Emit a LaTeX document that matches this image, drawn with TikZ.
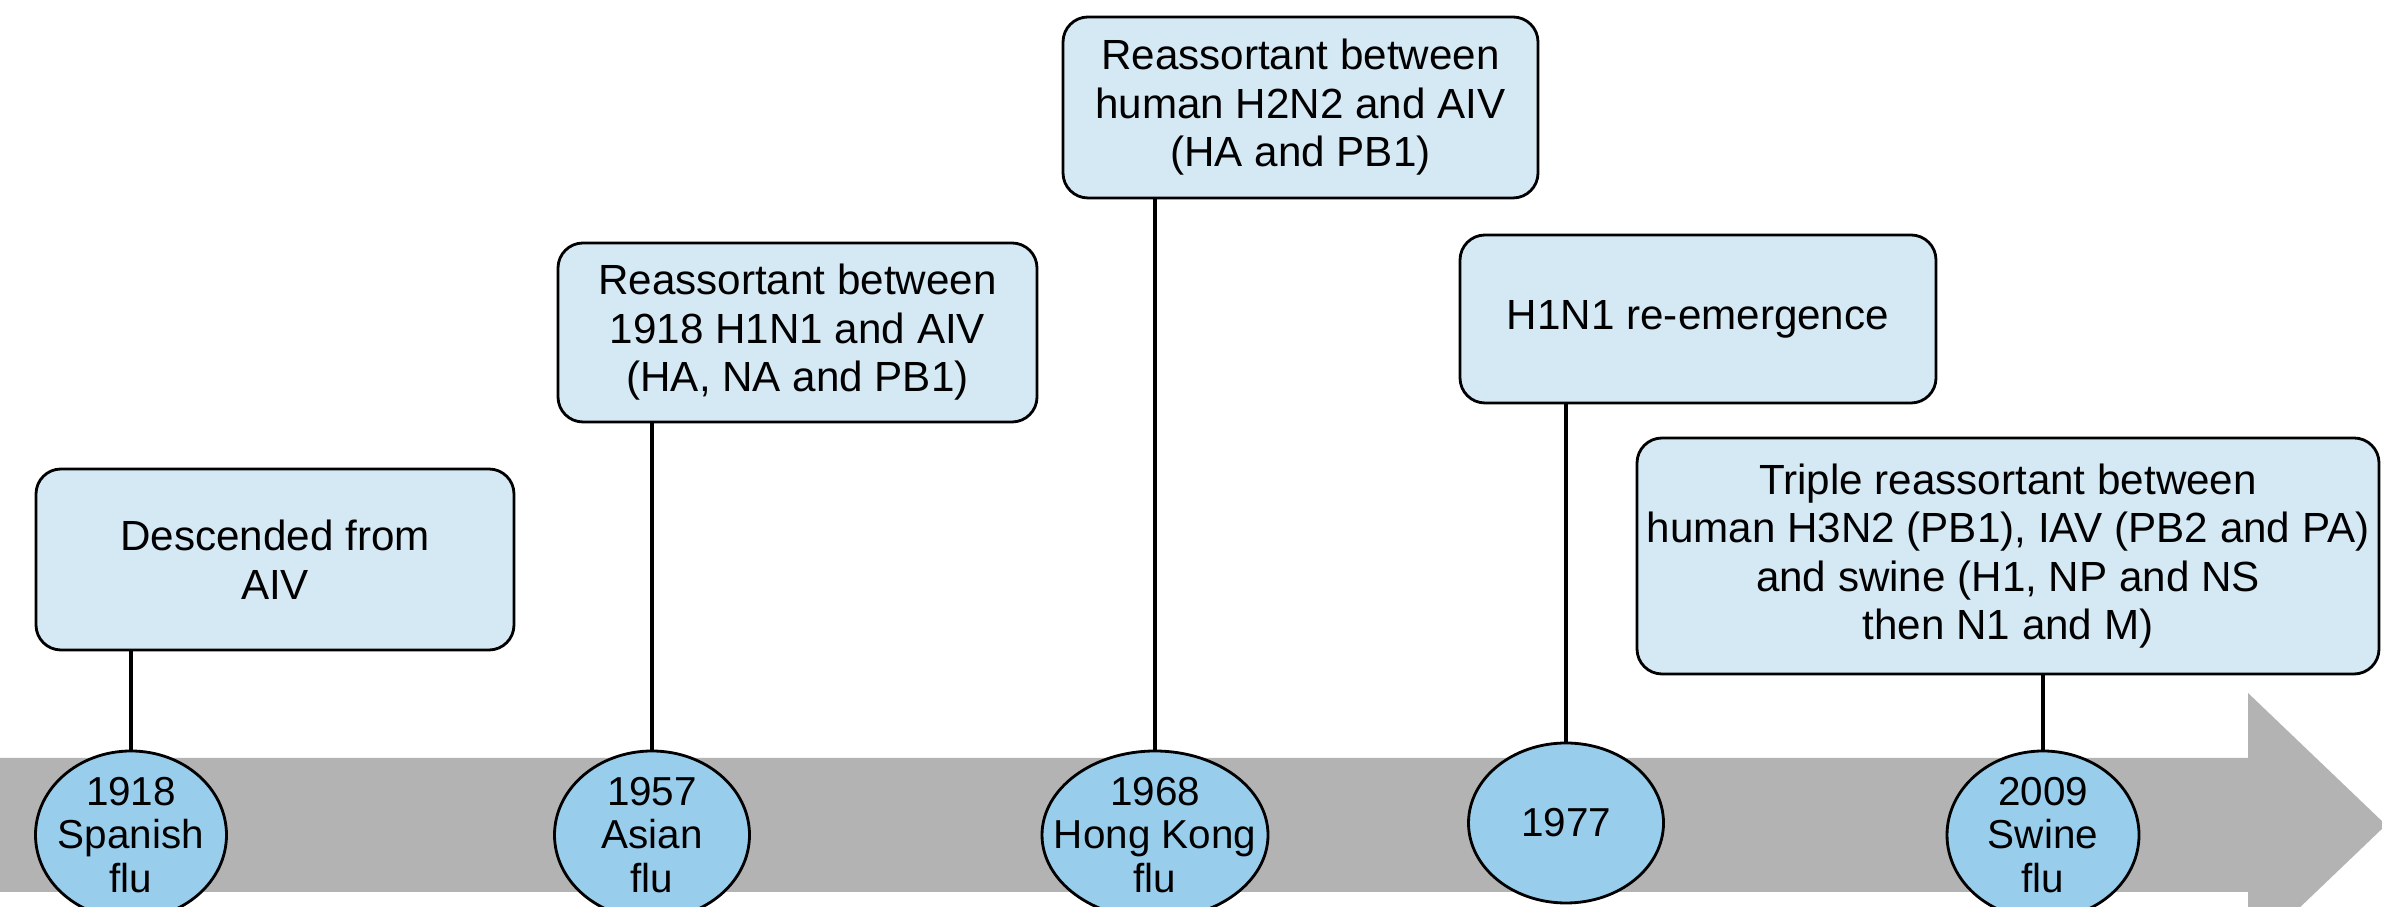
\documentclass[tikz,border=0pt]{standalone}
\usepackage{fontspec}
\setmainfont{Liberation Sans}
\usetikzlibrary{shapes.geometric}
\definecolor{boxblue}{RGB}{213,233,245}
\definecolor{yearblue}{RGB}{153,205,236}
\definecolor{bandgray}{RGB}{179,179,179}
\tikzset{
  event/.style    = {shape=rectangle, rounded corners=0.25cm,
                     draw, line width=0.8pt, fill=boxblue,
                     align=center, inner sep=0pt,
                     font=\fontsize{12}{13.8}\selectfont},
  year/.style     = {shape=ellipse, draw, line width=0.8pt,
                     fill=yearblue, inner sep=0pt,
                     minimum height=1.68cm},
  yeartext/.style = {align=center, inner sep=0pt,
                     font=\fontsize{11.5}{12.3}\selectfont},
  link/.style     = {draw, line width=1.1pt}
}

\begin{document}
\begin{tikzpicture}
  \useasboundingbox (0,0) rectangle (23.82,9.07);
  \fill[white] (0,0) rectangle (23.82,9.07);
  \clip (0,0) rectangle (23.82,9.07);

  % time arrow
  \fill[bandgray] (0,0.15) -- (22.48,0.15) -- (22.48,-0.50) -- (23.86,0.82)
    -- (22.48,2.14) -- (22.48,1.49) -- (0,1.49) -- cycle;

  % events
  \node[event, minimum width=4.78cm, minimum height=1.81cm] (e1918) at (2.75,3.475)
    {Descended from\\AIV};
  \node[event, minimum width=4.79cm, minimum height=1.79cm] (e1957) at (7.975,5.745)
    {Reassortant between\\1918 H1N1 and AIV\\(HA, NA and PB1)};
  \node[event, minimum width=4.75cm, minimum height=1.81cm] (e1968) at (13.005,7.995)
    {Reassortant between\\human H2N2 and AIV\\(HA and PB1)};
  \node[event, minimum width=4.76cm, minimum height=1.68cm] (e1977) at (16.98,5.88)
    {H1N1 re-emergence};
  \node[event, minimum width=7.42cm, minimum height=2.36cm] (e2009) at (20.08,3.51)
    {Triple reassortant between\\human H3N2 (PB1), IAV (PB2 and PA)\\and swine (H1, NP and NS\\then N1 and M)};

  % years
  \node[year, minimum width=1.91cm] (y1918) at (1.31,0.72) {};
  \node[yeartext] (t1918) at (y1918) {1918\\Spanish\\flu};
  \node[year, minimum width=1.95cm] (y1957) at (6.52,0.72) {};
  \node[yeartext] (t1957) at (y1957) {1957\\Asian\\flu};
  \node[year, minimum width=2.26cm] (y1968) at (11.55,0.72) {};
  \node[yeartext] (t1968) at (y1968) {1968\\Hong Kong\\flu};
  \node[year, minimum width=1.95cm, minimum height=1.60cm] (y1977) at (15.66,0.84) {};
  \node[yeartext] (t1977) at (y1977) {1977};
  \node[year, minimum width=1.92cm] (y2009) at (20.43,0.72) {};
  \node[yeartext] (t2009) at (y2009) {2009\\Swine\\flu};

  % links
  \draw[link] (y1918.north) -- (y1918.north |- e1918.south);
  \draw[link] (y1957.north) -- (y1957.north |- e1957.south);
  \draw[link] (y1968.north) -- (y1968.north |- e1968.south);
  \draw[link] (y1977.north) -- (y1977.north |- e1977.south);
  \draw[link] (y2009.north) -- (y2009.north |- e2009.south);
\end{tikzpicture}
\end{document}
